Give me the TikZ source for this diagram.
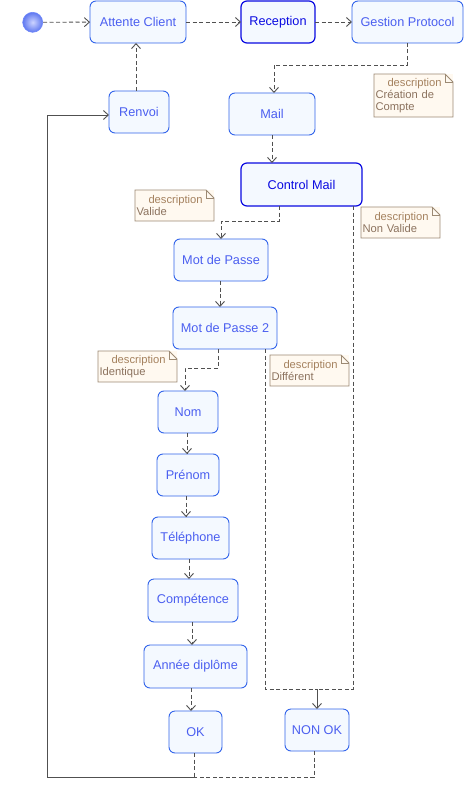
\documentclass[tikz,border=0pt]{standalone}
\usepackage{fontspec}
\setmainfont{Liberation Sans}
\usetikzlibrary{arrows.meta,calc}
\definecolor{stborder}{RGB}{50,100,235}
\definecolor{stfill}{RGB}{244,249,255}
\definecolor{sttext}{RGB}{75,95,240}
\definecolor{stdark}{RGB}{10,10,225}
\definecolor{notefill}{RGB}{255,249,240}
\definecolor{noteborder}{RGB}{156,138,116}
\definecolor{notehead}{RGB}{165,130,95}
\definecolor{notetext}{RGB}{140,115,95}
\definecolor{conn}{RGB}{80,80,80}
\definecolor{ballin}{RGB}{205,212,255}
\definecolor{ballout}{RGB}{95,120,240}
\tikzset{
  state/.style={draw=stborder, fill=stfill, text=sttext, rounded corners=6pt,
    line width=0.9pt, inner sep=0pt, outer sep=0pt, font=\fontsize{12.7}{14}\selectfont},
  keystate/.style={state, draw=stdark, text=stdark, line width=1.2pt},
  notebox/.style={fill=notefill, draw=none, inner sep=1.5pt, outer sep=0pt, anchor=north west,
    align=left, font=\fontsize{11.2}{12}\selectfont, text=notetext},
  dep/.style={draw=conn, line width=0.9pt, dash pattern=on 4pt off 2.5pt,
    -{Straight Barb[length=5pt,width=9pt]}},
  deplain/.style={draw=conn, line width=0.9pt, dash pattern=on 4pt off 2.5pt},
  solidarrow/.style={draw=conn, line width=0.9pt, -{Straight Barb[length=5pt,width=9pt]}},
}
\newcommand{\mknote}[6]{%
  % #1 name, #2 x1, #3 y1, #4 x2, #5 y2, #6 body
  \node[notebox, minimum width=#4-#2, minimum height=#5-#3, text width=#4-#2-3] (#1) at (#2,#3)
    {\textcolor{notehead}{\hspace*{12pt}description}\\#6};
  \draw[noteborder, line width=0.9pt]
    (#2,#3) -- (#4-8,#3) -- (#4,#3+8) -- (#4,#5) -- (#2,#5) -- cycle;
  \draw[noteborder, line width=0.6pt] (#4-8,#3) -- (#4-8,#3+8) -- (#4,#3+8);
}
\begin{document}
\begin{tikzpicture}[x=1pt, y=-1pt]
\useasboundingbox[fill=white] (0,0) rectangle (464,789);

% start
\node[circle, minimum size=20pt, inner sep=0pt, draw={rgb,255:red,110;green,135;blue,250},
  line width=0.6pt, inner color=ballin, outer color=ballout] (start) at (32.7,22.3) {};

% states
\node[state, minimum width=96pt, minimum height=42pt] (ac) at (138,22) {Attente Client};
\node[keystate, minimum width=74pt, minimum height=42pt] (rec) at (278,22) {Reception};
\node[state, minimum width=111pt, minimum height=42pt] (gp) at (407.5,22) {Gestion Protocol};
\node[state, minimum width=60pt, minimum height=42pt] (renvoi) at (139,112) {Renvoi};
\node[state, minimum width=86pt, minimum height=42pt] (mail) at (272,114) {Mail};
\node[keystate, minimum width=121pt, minimum height=43pt] (cm) at (301.5,184.5) {Control Mail};
\node[state, minimum width=94pt, minimum height=42pt] (mdp) at (221,260) {Mot de Passe};
\node[state, minimum width=104pt, minimum height=42pt] (mdp2) at (225,328) {Mot de Passe 2};
\node[state, minimum width=60pt, minimum height=42pt] (nom) at (188,412) {Nom};
\node[state, minimum width=62pt, minimum height=42pt] (prenom) at (188,475) {Prénom};
\node[state, minimum width=77pt, minimum height=42pt] (tel) at (190.5,538) {Téléphone};
\node[state, minimum width=90pt, minimum height=43pt] (comp) at (193,600.5) {Compétence};
\node[state, minimum width=103pt, minimum height=43pt] (annee) at (195.5,666.5) {Année diplôme};
\node[state, minimum width=53pt, minimum height=42pt] (ok) at (195.5,732) {OK};
\node[state, minimum width=64pt, minimum height=42pt] (nonok) at (317,730) {NON OK};

% notes
\mknote{n1}{374}{74}{453}{117}{Création de\\Compte}
\mknote{n2}{135}{190}{214}{221}{Valide}
\mknote{n3}{361}{207}{440}{238}{Non Valide}
\mknote{n4}{98}{351}{177}{382}{Identique}
\mknote{n5}{270}{355}{349}{386}{Différent}

% junction coordinates
\coordinate (j) at (317,689);
\coordinate (b) at (194,777);

% connectors
\draw[dep] (start) -- (ac);
\draw[dep] (ac) -- (rec);
\draw[dep] (rec) -- (gp);
\draw[dep] (gp.south) -- ++(0,22) -| ([xshift=2pt]mail.north);
\draw[dep] ([xshift=-3pt]renvoi.north) -- ([xshift=-2pt]ac.south);
\draw[dep] (mail.south) -- (mail.south |- cm.north);
\draw[dep] ([xshift=-22.5pt]cm.south) -- ++(0,15) -| (mdp.north);
\draw[deplain] ([xshift=51.5pt]cm.south) |- (j);
\draw[deplain] ([xshift=40pt]mdp2.south) |- (j);
\draw[solidarrow] (j) -- (nonok.north);
\draw[dep] ([xshift=-1pt]mdp.south) -- ([xshift=-5pt]mdp2.north);
\draw[dep] ([xshift=-7pt]mdp2.south) -- ++(0,19) -| ([xshift=-3pt]nom.north);
\draw[dep] ([xshift=-1pt]nom.south) -- ([xshift=-1pt]prenom.north);
\draw[dep] ([xshift=-2pt]prenom.south) -- ([xshift=-4.5pt]tel.north);
\draw[dep] ([xshift=-1.5pt]tel.south) -- ([xshift=-4pt]comp.north);
\draw[dep] ([xshift=-1pt]comp.south) -- ([xshift=-3.5pt]annee.north);
\draw[dep] ([xshift=-4.5pt]annee.south) -- ([xshift=-4.5pt]ok.north);
\draw[deplain] ([xshift=-1.5pt]ok.south) -- (b);
\draw[deplain] ([xshift=-3pt]nonok.south) |- (b);
\draw[solidarrow] (b) -- (47,777) |- ([yshift=-3pt]renvoi.west);
\end{tikzpicture}
\end{document}
